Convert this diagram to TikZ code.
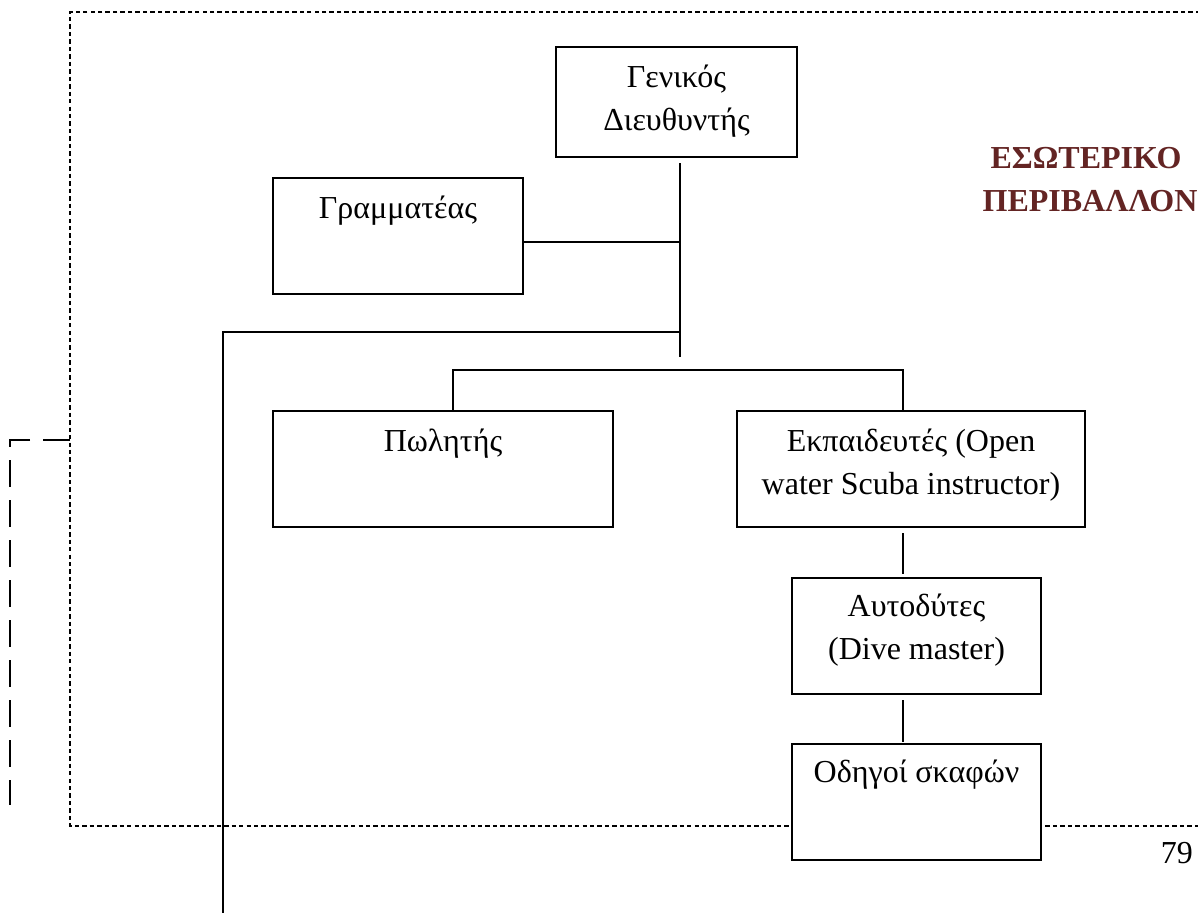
\documentclass[tikz,border=0pt]{standalone}
\usepackage{fontspec}
\setmainfont{Liberation Serif}
\definecolor{envred}{RGB}{99,36,35}
\tikzset{
  orgbox/.style={draw=black, line width=1.5pt, fill=white, inner sep=0pt, anchor=north west},
  lbl/.style={font=\fontsize{24}{32.25}\selectfont, align=center, inner sep=0pt, anchor=north},
  conn/.style={line width=1.5pt},
  thinconn/.style={line width=1.1pt},
  envborder/.style={line width=2pt, dash pattern=on 3.3pt off 2.3pt},
  linkdash/.style={line width=1.5pt, dash pattern=on 20pt off 10pt},
  envtitle/.style={font=\fontsize{24}{32.25}\selectfont\bfseries, text=envred, inner sep=0pt, anchor=base},
  pagenum/.style={font=\fontsize{24}{32.25}\selectfont, inner sep=0pt, anchor=base east}
}
\begin{document}
\begin{tikzpicture}[x=0.75pt,y=-0.75pt]
\useasboundingbox (0,0) rectangle (1198,913);

% environment border (dotted)
\coordinate (bTL) at (70,12);
\coordinate (bTR) at (1200,12);
\coordinate (bBL) at (70,826);
\coordinate (bBR) at (1200,826);
\draw[envborder] (bTR) -- (bTL) -- (bBL) -- (bBR);

% long dashed link on the left
\coordinate (lk1) at (70,440);
\coordinate (lk2) at (10,440);
\coordinate (lk3) at (10,805);
\draw[linkdash] (lk1) -- (lk2) -- (lk3);

% boxes
\node[orgbox, minimum width=180.75pt, minimum height=82.5pt] (gd) at (555,46) {};
\node[orgbox, minimum width=187.5pt, minimum height=87pt] (gr) at (272,177) {};
\node[orgbox, minimum width=255pt, minimum height=87pt] (pw) at (272,410) {};
\node[orgbox, minimum width=261pt, minimum height=87pt] (ek) at (736,410) {};
\node[orgbox, minimum width=186.75pt, minimum height=87pt] (au) at (791,577) {};
\node[orgbox, minimum width=186.75pt, minimum height=87pt] (od) at (791,743) {};

% labels
\node[lbl] (gdT) at ([yshift=-10.75pt]gd.north) {\rule{0pt}{20pt}Γενικός\\Διευθυντής};
\node[lbl] (grT) at ([yshift=-10.75pt]gr.north) {\rule{0pt}{20pt}Γραμματέας};
\node[lbl] (pwT) at ([yshift=-10.75pt]pw.north) {\rule{0pt}{20pt}Πωλητής};
\node[lbl] (ekT) at ([yshift=-10.75pt]ek.north) {\rule{0pt}{20pt}Εκπαιδευτές (Open\\water Scuba instructor)};
\node[lbl] (auT) at ([yshift=-9.5pt]au.north) {\rule{0pt}{20pt}Αυτοδύτες\\(Dive master)};
\node[lbl] (odT) at ([yshift=-9.5pt]od.north) {\rule{0pt}{20pt}Οδηγοί σκαφών};

% connectors
\coordinate (v1) at (680,163);
\coordinate (v2) at (680,357);
\coordinate (jgr) at (680,242);
\coordinate (jl) at (680,332);
\coordinate (l1) at (223,332);
\coordinate (l2) at (223,913);
\coordinate (h1) at (453,370);
\coordinate (h2) at (903,370);
\coordinate (e1) at (903,533);
\coordinate (e2) at (903,574);
\coordinate (a1) at (903,700);
\coordinate (a2) at (903,742);

\draw[conn] (v1) -- (v2);
\draw[thinconn] (gr.east |- jgr) -- (jgr);
\draw[conn] (jl) -- (l1) -- (l2);
\draw[conn] (pw.north -| h1) -- (h1) -- (h2) -- (ek.north -| h2);
\draw[conn] (e1) -- (e2);
\draw[conn] (a1) -- (a2);

% titles
\node[envtitle] (et1) at (1086,168) {ΕΣΩΤΕΡΙΚΟ};
\node[envtitle] (et2) at (1090,211) {ΠΕΡΙΒΑΛΛΟΝ};
\node[pagenum] (pg) at (1193,863) {79};
\end{tikzpicture}
\end{document}
